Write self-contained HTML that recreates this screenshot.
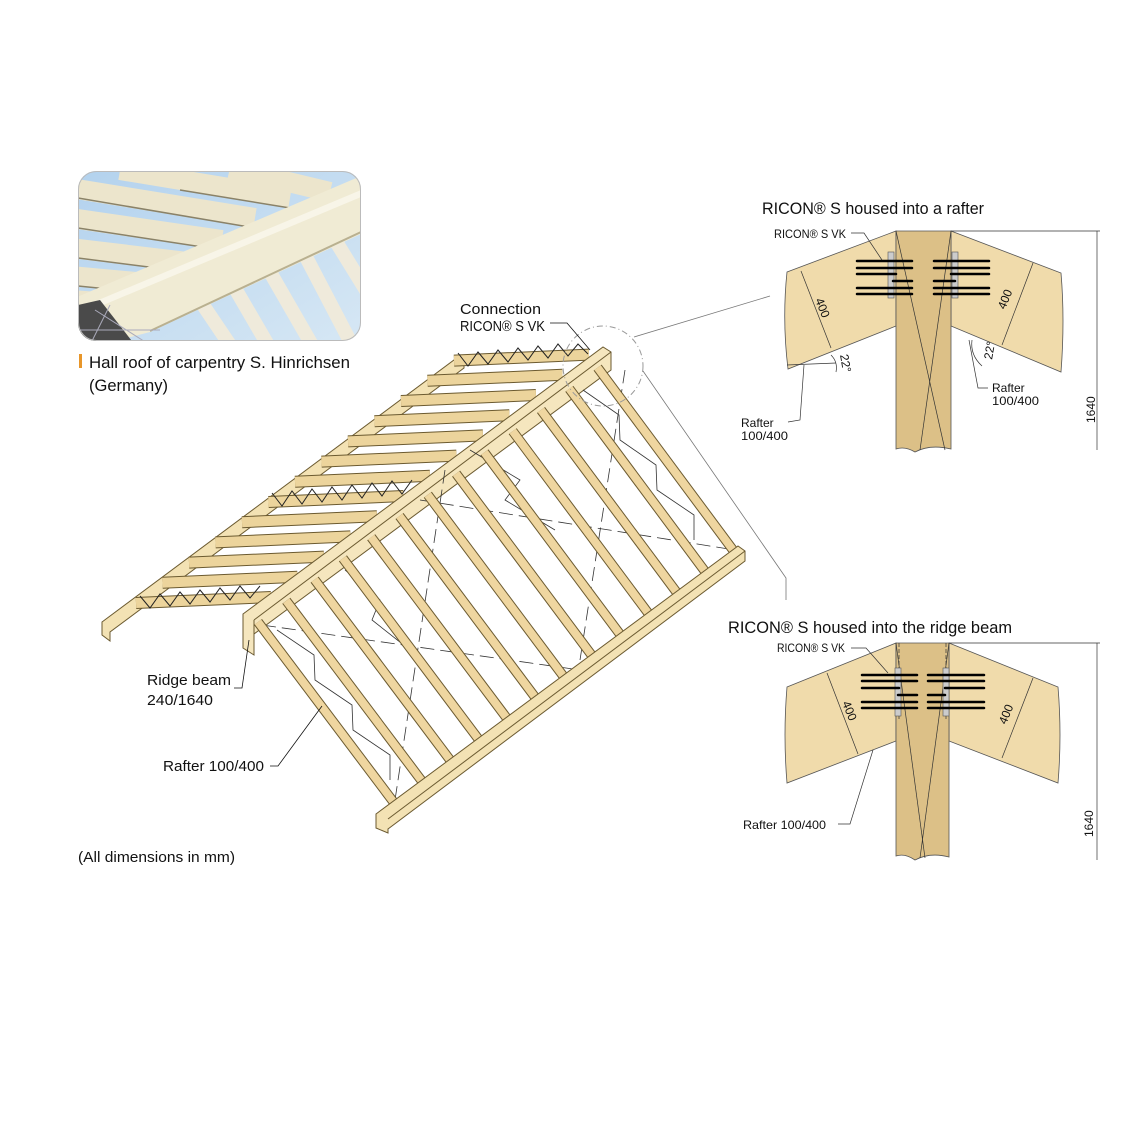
<!DOCTYPE html>
<html><head><meta charset="utf-8"><style>
html,body{margin:0;padding:0;background:#fff;}
svg{display:block;}
text{font-family:"Liberation Sans",sans-serif;fill:#111;}
</style></head><body>
<svg width="1140" height="1140" viewBox="0 0 1140 1140" xmlns="http://www.w3.org/2000/svg">
<defs>
<clipPath id="ph"><rect x="78" y="171" width="283" height="170" rx="18"/></clipPath>
<linearGradient id="sky" x1="0" y1="0" x2="1" y2="1"><stop offset="0" stop-color="#b3d2ee"/><stop offset="1" stop-color="#d6e7f4"/></linearGradient>
</defs>

<!-- Photo -->
<g clip-path="url(#ph)">
<rect x="78" y="171" width="283" height="170" fill="url(#sky)"/>
<g stroke="#ece5cc" stroke-width="20" stroke-linecap="butt">
<line x1="70" y1="188" x2="255" y2="218"/>
<line x1="70" y1="218" x2="222" y2="240"/>
<line x1="70" y1="248" x2="188" y2="262"/>
<line x1="70" y1="276" x2="158" y2="284"/>
<line x1="70" y1="300" x2="130" y2="304"/>
<line x1="120" y1="170" x2="290" y2="198"/>
<line x1="230" y1="168" x2="330" y2="192"/>
</g>
<g stroke="#8a8268" stroke-width="1.5">
<line x1="78" y1="198" x2="255" y2="228"/>
<line x1="78" y1="228" x2="222" y2="250"/>
<line x1="78" y1="258" x2="188" y2="272"/>
<line x1="78" y1="286" x2="158" y2="294"/>
<line x1="180" y1="190" x2="290" y2="208"/>
</g>
<g stroke="#efeadb" stroke-width="14">
<line x1="335" y1="240" x2="372" y2="300"/>
<line x1="305" y1="255" x2="352" y2="345"/>
<line x1="270" y1="272" x2="312" y2="345"/>
<line x1="236" y1="290" x2="268" y2="345"/>
<line x1="203" y1="305" x2="230" y2="345"/>
</g>
<polygon points="70,300 361,176 361,234 150,332 100,345 70,345" fill="#f0ebd4"/>
<polygon points="70,312 361,190 361,197 70,319" fill="#f8f5e8"/>
<line x1="150" y1="331" x2="361" y2="232" stroke="#b9b090" stroke-width="2"/>
<polygon points="78,305 100,300 135,345 78,345" fill="#4a4a4a"/>
<g stroke="#aab" stroke-width="1"><line x1="95" y1="310" x2="150" y2="345"/><line x1="110" y1="305" x2="90" y2="345"/><line x1="80" y1="330" x2="160" y2="330"/></g>
</g>
<rect x="78.5" y="171.5" width="282" height="169" rx="18" fill="none" stroke="#bbb" stroke-width="1"/>

<!-- caption -->
<rect x="79" y="354" width="3" height="14" fill="#e8962a"/>
<text x="89" y="368" font-size="17" textLength="261" lengthAdjust="spacingAndGlyphs">Hall roof of carpentry S. Hinrichsen</text>
<text x="89" y="391" font-size="17" textLength="79" lengthAdjust="spacingAndGlyphs">(Germany)</text>

<!-- left eave beam (below bars) -->
<polygon points="102,622 458,357 464,360 464,368 110,632 110,641 102,635" fill="#f3e2b4" stroke="#6b5a30" stroke-width="1"/>

<!-- back slope bars -->
<g stroke-linecap="butt">
<g stroke="#6b5a30" stroke-width="12">
<line x1="136" y1="603" x2="271" y2="597"/><line x1="162.5" y1="582.8" x2="297.5" y2="576.8"/><line x1="189" y1="562.6" x2="324" y2="556.6"/><line x1="215.5" y1="542.4" x2="350.5" y2="536.4"/><line x1="242" y1="522.2" x2="377" y2="516.2"/><line x1="268.5" y1="502" x2="403.5" y2="496"/><line x1="295" y1="481.8" x2="430" y2="475.8"/><line x1="321.5" y1="461.6" x2="456.5" y2="455.6"/><line x1="348" y1="441.4" x2="483" y2="435.4"/><line x1="374.5" y1="421.2" x2="509.5" y2="415.2"/><line x1="401" y1="401" x2="536" y2="395"/><line x1="427.5" y1="380.8" x2="562.5" y2="374.8"/><line x1="454" y1="360.6" x2="589" y2="354.6"/>
</g>
<g stroke="#ecd49c" stroke-width="10">
<line x1="136" y1="603" x2="271" y2="597"/><line x1="162.5" y1="582.8" x2="297.5" y2="576.8"/><line x1="189" y1="562.6" x2="324" y2="556.6"/><line x1="215.5" y1="542.4" x2="350.5" y2="536.4"/><line x1="242" y1="522.2" x2="377" y2="516.2"/><line x1="268.5" y1="502" x2="403.5" y2="496"/><line x1="295" y1="481.8" x2="430" y2="475.8"/><line x1="321.5" y1="461.6" x2="456.5" y2="455.6"/><line x1="348" y1="441.4" x2="483" y2="435.4"/><line x1="374.5" y1="421.2" x2="509.5" y2="415.2"/><line x1="401" y1="401" x2="536" y2="395"/><line x1="427.5" y1="380.8" x2="562.5" y2="374.8"/><line x1="454" y1="360.6" x2="589" y2="354.6"/>
</g>
</g>
<!-- back zigzags -->
<polyline points="140,596 150,608 160,594 170,606 180,592 190,604 200,590 210,602 220,588 230,600 240,586 250,598 260,586" fill="none" stroke="#222" stroke-width="1"/>
<polyline points="272,493 282,506 292,491 302,504 312,489 322,502 332,487 342,500 352,485 362,498 372,483 382,496 392,481 402,494 412,480" fill="none" stroke="#222" stroke-width="1"/>
<polyline points="458,353 468,366 478,352 488,364 498,350 508,362 518,348 528,360 538,346 548,358 558,344 568,356 578,344 588,354" fill="none" stroke="#222" stroke-width="1"/>
<!-- ridge beam -->
<polygon points="243,614 603,347 611,352 611,370 254,634 254,655 243,648" fill="#f5e6be" stroke="#6b5a30" stroke-width="1"/>
<line x1="254" y1="620" x2="611" y2="352" stroke="#6b5a30" stroke-width="1"/>
<line x1="254" y1="620" x2="254" y2="655" stroke="#6b5a30" stroke-width="1"/>
<!-- bracing lines front -->
<g stroke="#333" stroke-width="0.8" fill="none">
<polyline points="277,630 314,655 315,680 352,705 353,730 390,755 390,780"/>
<polyline points="583,390 619,415 620,440 656,465 657,490 694,515 694,540"/>
<line x1="262" y1="625" x2="580" y2="670" stroke-dasharray="14,6"/>
<line x1="420" y1="500" x2="735" y2="550" stroke-dasharray="14,6"/>
<line x1="395" y1="800" x2="445" y2="470" stroke-dasharray="14,6"/>
<line x1="580" y1="660" x2="625" y2="370" stroke-dasharray="14,6"/>
<polyline points="345,570 380,600 372,620 410,650"/>
<polyline points="470,450 520,480 505,500 555,530"/>
</g>
<!-- front rafters -->
<g stroke-linecap="butt">
<g stroke="#6b5a30" stroke-width="10">
<line x1="258" y1="622" x2="398" y2="808"/><line x1="286.3" y1="600.8" x2="426.1" y2="786.75"/><line x1="314.6" y1="579.6" x2="454.2" y2="765.5"/><line x1="342.9" y1="558.4" x2="482.3" y2="744.25"/><line x1="371.2" y1="537.2" x2="510.4" y2="723"/><line x1="399.5" y1="516" x2="538.5" y2="701.75"/><line x1="427.8" y1="494.8" x2="566.6" y2="680.5"/><line x1="456.1" y1="473.6" x2="594.7" y2="659.25"/><line x1="484.4" y1="452.4" x2="622.8" y2="638"/><line x1="512.7" y1="431.2" x2="650.9" y2="616.75"/><line x1="541" y1="410" x2="679" y2="595.5"/><line x1="569.3" y1="388.8" x2="707.1" y2="574.25"/><line x1="597.6" y1="367.6" x2="735.2" y2="553"/>
</g>
<g stroke="#efd6a0" stroke-width="8">
<line x1="258" y1="622" x2="398" y2="808"/><line x1="286.3" y1="600.8" x2="426.1" y2="786.75"/><line x1="314.6" y1="579.6" x2="454.2" y2="765.5"/><line x1="342.9" y1="558.4" x2="482.3" y2="744.25"/><line x1="371.2" y1="537.2" x2="510.4" y2="723"/><line x1="399.5" y1="516" x2="538.5" y2="701.75"/><line x1="427.8" y1="494.8" x2="566.6" y2="680.5"/><line x1="456.1" y1="473.6" x2="594.7" y2="659.25"/><line x1="484.4" y1="452.4" x2="622.8" y2="638"/><line x1="512.7" y1="431.2" x2="650.9" y2="616.75"/><line x1="541" y1="410" x2="679" y2="595.5"/><line x1="569.3" y1="388.8" x2="707.1" y2="574.25"/><line x1="597.6" y1="367.6" x2="735.2" y2="553"/>
</g>
</g>
<!-- front eave beam -->
<polygon points="376,814 738,546 745,551 745,561 388,829 388,833 376,828" fill="#f3e2b4" stroke="#6b5a30" stroke-width="1"/>
<line x1="388" y1="819" x2="745" y2="551" stroke="#6b5a30" stroke-width="1"/>

<!-- connection circle & leaders -->
<circle cx="603" cy="366" r="40" fill="none" stroke="#999" stroke-width="1" stroke-dasharray="6,3,1,3"/>
<line x1="634" y1="337" x2="770" y2="296" stroke="#777" stroke-width="0.8"/>
<polyline points="643,371 786,578 786,600" fill="none" stroke="#777" stroke-width="0.8"/>
<polyline points="550,323 567,323 590,350" fill="none" stroke="#111" stroke-width="0.8"/>
<text x="460" y="314" font-size="15" textLength="81" lengthAdjust="spacingAndGlyphs">Connection</text>
<text x="460" y="331" font-size="15" textLength="85" lengthAdjust="spacingAndGlyphs">RICON® S VK</text>
<text x="147" y="685" font-size="15" textLength="84" lengthAdjust="spacingAndGlyphs">Ridge beam</text>
<text x="147" y="705" font-size="15" textLength="66" lengthAdjust="spacingAndGlyphs">240/1640</text>
<polyline points="234,688 242,688 249,640" fill="none" stroke="#111" stroke-width="0.8"/>
<text x="163" y="771" font-size="15" textLength="101" lengthAdjust="spacingAndGlyphs">Rafter 100/400</text>
<polyline points="270,766 278,766 322,706" fill="none" stroke="#111" stroke-width="0.8"/>
<text x="78" y="862" font-size="15" textLength="157" lengthAdjust="spacingAndGlyphs">(All dimensions in mm)</text>

<!-- Detail 1 -->
<text x="762" y="214" font-size="17" textLength="222" lengthAdjust="spacingAndGlyphs">RICON® S housed into a rafter</text>
<path d="M787,272 L896,231 L896,326 L788,369 Q782,320 787,272Z" fill="#f0dbab" stroke="#555" stroke-width="0.8"/>
<path d="M951,231 L1061,273 Q1065,320 1061,372 L951,326Z" fill="#f0dbab" stroke="#555" stroke-width="0.8"/>
<path d="M896,231 L951,231 L951,449 Q930,444 915,452 Q905,446 896,449Z" fill="#dcc087" stroke="#555" stroke-width="0.8"/>
<g stroke="#333" stroke-width="0.7"><line x1="896" y1="231" x2="945" y2="450"/><line x1="951" y1="231" x2="920" y2="450"/></g>
<rect x="888" y="252" width="6" height="46" fill="#ccc" stroke="#555" stroke-width="0.6"/>
<rect x="952" y="252" width="6" height="46" fill="#ccc" stroke="#555" stroke-width="0.6"/>
<g stroke="#000" stroke-width="2.5" stroke-linecap="round">
<line x1="857" y1="261" x2="912" y2="261"/><line x1="857" y1="268" x2="912" y2="268"/><line x1="857" y1="274" x2="896" y2="274"/><line x1="893" y1="281" x2="912" y2="281"/><line x1="857" y1="288" x2="912" y2="288"/><line x1="857" y1="294" x2="912" y2="294"/>
<line x1="934" y1="261" x2="989" y2="261"/><line x1="934" y1="268" x2="989" y2="268"/><line x1="951" y1="274" x2="989" y2="274"/><line x1="934" y1="281" x2="955" y2="281"/><line x1="934" y1="288" x2="989" y2="288"/><line x1="934" y1="294" x2="989" y2="294"/>
</g>
<g stroke="#333" stroke-width="0.7" fill="none">
<line x1="801" y1="271" x2="831" y2="348"/>
<line x1="1033" y1="263" x2="1002" y2="345"/>
<polyline points="851,233 864,233 882,260"/>
<line x1="951" y1="231" x2="1100" y2="231"/>
<line x1="1097" y1="231" x2="1097" y2="450"/>
<polyline points="787,365 836,363"/>
<path d="M831,355 Q838,362 836,372"/>
<path d="M972,340 Q970,355 982,366"/>
<polyline points="804,365 800,420 788,422"/>
<polyline points="969,340 978,388 988,388"/>
</g>
<text x="774" y="238" font-size="12" textLength="72" lengthAdjust="spacingAndGlyphs">RICON® S  VK</text>
<text transform="translate(815,300) rotate(68)" font-size="12">400</text>
<text transform="translate(1005,310) rotate(-68)" font-size="12">400</text>
<text transform="translate(840,355) rotate(80)" font-size="12">22°</text>
<text transform="translate(992,360) rotate(-80)" font-size="12">22°</text>
<text x="741" y="427" font-size="12">Rafter</text>
<text x="741" y="440" font-size="12" textLength="47" lengthAdjust="spacingAndGlyphs">100/400</text>
<text x="992" y="392" font-size="12">Rafter</text>
<text x="992" y="405" font-size="12" textLength="47" lengthAdjust="spacingAndGlyphs">100/400</text>
<text transform="translate(1095,423) rotate(-90)" font-size="12">1640</text>

<!-- Detail 2 -->
<text x="728" y="633" font-size="17" textLength="284" lengthAdjust="spacingAndGlyphs">RICON® S housed into the ridge beam</text>
<path d="M787,687 L896,643 L896,741 L787,783 Q783,735 787,687Z" fill="#f0dbab" stroke="#555" stroke-width="0.8"/>
<path d="M949,643 L1058,687 Q1062,735 1058,783 L949,741Z" fill="#f0dbab" stroke="#555" stroke-width="0.8"/>
<path d="M896,643 L949,643 L949,857 Q930,852 915,860 Q905,853 896,856Z" fill="#dcc087" stroke="#555" stroke-width="0.8"/>
<g stroke="#333" stroke-width="0.7"><line x1="896" y1="643" x2="925" y2="858"/><line x1="949" y1="643" x2="920" y2="858"/>
<line x1="899" y1="643" x2="899" y2="720" stroke-dasharray="4,2"/><line x1="946" y1="643" x2="946" y2="720" stroke-dasharray="4,2"/></g>
<rect x="895" y="668" width="6" height="48" fill="#ccc" stroke="#555" stroke-width="0.6"/>
<rect x="943" y="668" width="6" height="48" fill="#ccc" stroke="#555" stroke-width="0.6"/>
<g stroke="#000" stroke-width="2.5" stroke-linecap="round">
<line x1="862" y1="675" x2="917" y2="675"/><line x1="862" y1="681" x2="917" y2="681"/><line x1="862" y1="688" x2="899" y2="688"/><line x1="898" y1="695" x2="917" y2="695"/><line x1="862" y1="702" x2="917" y2="702"/><line x1="862" y1="708" x2="917" y2="708"/>
<line x1="928" y1="675" x2="984" y2="675"/><line x1="928" y1="681" x2="984" y2="681"/><line x1="945" y1="688" x2="984" y2="688"/><line x1="928" y1="695" x2="945" y2="695"/><line x1="928" y1="702" x2="984" y2="702"/><line x1="928" y1="708" x2="984" y2="708"/>
</g>
<g stroke="#333" stroke-width="0.7" fill="none">
<line x1="827" y1="673" x2="858" y2="754"/>
<line x1="1033" y1="678" x2="1002" y2="758"/>
<polyline points="851,648 866,648 888,673"/>
<line x1="949" y1="643" x2="1100" y2="643"/>
<line x1="1097" y1="643" x2="1097" y2="860"/>
<polyline points="873,750 850,824 838,824"/>
</g>
<text x="777" y="652" font-size="12" textLength="68" lengthAdjust="spacingAndGlyphs">RICON® S VK</text>
<text transform="translate(842,703) rotate(68)" font-size="12">400</text>
<text transform="translate(1006,725) rotate(-68)" font-size="12">400</text>
<text x="743" y="829" font-size="12" textLength="83" lengthAdjust="spacingAndGlyphs">Rafter 100/400</text>
<text transform="translate(1093,837) rotate(-90)" font-size="12">1640</text>
</svg>
</body></html>
